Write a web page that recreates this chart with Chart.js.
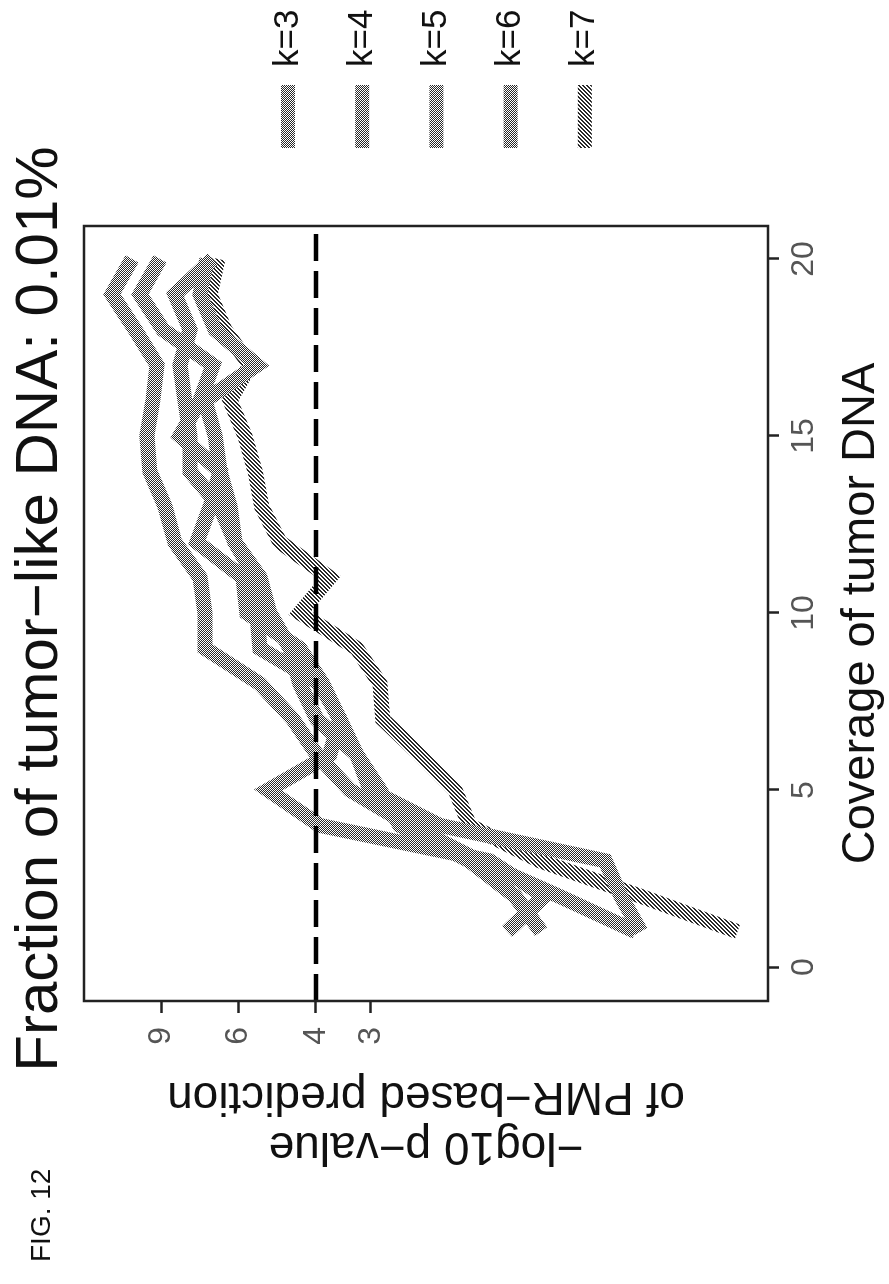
<!DOCTYPE html>
<html>
<head>
<meta charset="utf-8">
<style>
html, body { margin: 0; padding: 0; background: #fff; overflow: hidden; }
#page { position: absolute; left: 0; top: 0; width: 1284px; height: 889px; transform-origin: 0 0; transform: translate(0, 1284px) rotate(-90deg); }
</style>
<script src="https://cdn.jsdelivr.net/npm/chart.js@4.4.1/dist/chart.umd.min.js"></script>
</head>
<body>
<div id="page"><canvas id="fig12" width="1284" height="889"></canvas></div>
<script>
const coverage = [1, 2, 3, 4, 5, 6, 7, 8, 9, 10, 11, 12, 13, 14, 15, 16, 17, 18, 19, 20]
const kLabels = ["k=3", "k=4", "k=5", "k=6", "k=7"]
const pK3 = [0.75, 1.12, 1.70, 2.45, 3.35, 3.98, 4.51, 5.36, 7.15, 7.15, 7.34, 8.37, 8.81, 9.54, 9.69, 9.39, 9.19, 10.31, 11.63, 10.48]
const pK4 = [1.47, 1.21, 1.61, 3.92, 5.14, 3.72, 3.53, 3.86, 4.35, 5.74, 5.86, 7.46, 6.96, 6.61, 8.15, 7.34, 6.86, 8.91, 10.05, 9.05]
const pK5 = [1.23, 1.41, 1.79, 2.58, 2.86, 3.23, 3.53, 3.92, 5.36, 5.45, 5.50, 6.11, 6.61, 7.73, 7.73, 7.94, 8.15, 7.73, 8.37, 6.86]
const pK6 = [0.73, 0.81, 0.88, 2.09, 3.01, 3.23, 3.98, 4.35, 4.58, 5.09, 5.36, 6.11, 6.27, 6.61, 6.78, 7.15, 5.45, 6.78, 7.34, 7.08]
const pK7 = [0.44, 0.73, 1.24, 1.79, 1.93, 2.32, 2.82, 2.86, 3.23, 4.35, 3.72, 4.83, 5.31, 5.50, 5.80, 6.27, 5.65, 6.44, 6.96, 6.68]
const coverageTicks = [0, 5, 10, 15, 20]
const pValueTicks = [3, 4, 6, 9]
const threshold = 4

const fontFamily = "'Liberation Sans', Arial, sans-serif"
const canvas = document.getElementById("fig12")
const ctx = canvas.getContext("2d")

// halftone look of the scanned figure
function hatch(kind) {
  const tile = document.createElement("canvas")
  tile.width = 4
  tile.height = 4
  const g = tile.getContext("2d")
  g.fillStyle = "#fff"
  g.fillRect(0, 0, 4, 4)
  g.fillStyle = "#2a2a2a"
  for (let x = 0; x < 4; x++) {
    for (let y = 0; y < 4; y++) {
      const on = kind === "stripe" ? (x + y) % 4 < 2 : (x + y) % 2 === 0
      if (on) g.fillRect(x, y, 1, 1)
    }
  }
  return ctx.createPattern(tile, "repeat")
}

const dotted = hatch("dots")
const striped = hatch("stripe")
const seriesValues = [pK3, pK4, pK5, pK6, pK7]
const seriesFill = [dotted, dotted, dotted, dotted, striped]

const pageText = {
  id: "pageText",
  afterDatasetsDraw(chart) {
    const {ctx, chartArea, scales} = chart
    const yPix = scales.y.getPixelForValue(threshold)
    ctx.save()
    ctx.strokeStyle = "#000"
    ctx.lineWidth = 4.5
    ctx.setLineDash([27, 10])
    ctx.beginPath()
    ctx.moveTo(chartArea.left, yPix)
    ctx.lineTo(chartArea.right, yPix)
    ctx.stroke()
    ctx.restore()
  },
  afterDraw(chart) {
    const {ctx, chartArea} = chart
    ctx.save()
    ctx.strokeStyle = "#222"
    ctx.lineWidth = 2.5
    ctx.strokeRect(chartArea.left, chartArea.top, chartArea.right - chartArea.left, chartArea.bottom - chartArea.top)

    ctx.fillStyle = "#111"
    ctx.textAlign = "center"
    ctx.textBaseline = "alphabetic"
    ctx.font = "60px " + fontFamily
    ctx.fillText("Fraction of tumor\u2212like DNA: 0.01%", 675, 57)

    ctx.textAlign = "left"
    ctx.font = "28px " + fontFamily
    ctx.fillText("FIG. 12", 22, 50)

    ctx.font = "35px " + fontFamily
    ctx.textBaseline = "middle"
    chart.data.datasets.forEach((ds, i) => {
      const cy = 288 + i * 74.2
      ctx.fillStyle = ds.borderColor
      ctx.fillRect(1136, cy - 7, 63, 14)
      ctx.fillStyle = "#111"
      ctx.fillText(ds.label, 1217, cy)
    })
    ctx.restore()
  }
}

new Chart(canvas, {
  type: "line",
  data: {
    datasets: kLabels.map((label, i) => ({
      label: label,
      data: coverage.map((c, j) => ({x: c, y: seriesValues[i][j]})),
      borderColor: seriesFill[i],
      borderWidth: 15,
      borderJoinStyle: "miter",
      borderCapStyle: "butt",
      pointRadius: 0,
      fill: false,
      tension: 0
    }))
  },
  options: {
    responsive: false,
    animation: false,
    devicePixelRatio: 1,
    layout: {padding: {left: 0, top: 84, right: 226, bottom: 0}},
    plugins: {
      legend: {display: false},
      title: {display: false},
      tooltip: {enabled: false}
    },
    scales: {
      x: {
        type: "linear",
        min: -0.96,
        max: 20.93,
        afterBuildTicks: scale => { scale.ticks = coverageTicks.map(v => ({value: v})) },
        afterFit: scale => { scale.height = 121 },
        grid: {drawOnChartArea: false, drawTicks: true, tickLength: 11, tickColor: "#222", tickWidth: 2.5},
        border: {display: false},
        ticks: {color: "#555", padding: 6, font: {family: fontFamily, size: 32}, maxRotation: 0, callback: v => String(v)},
        title: {display: true, text: "Coverage of tumor DNA", color: "#111", padding: {top: 0, bottom: 2}, font: {family: fontFamily, size: 47, lineHeight: 1.087}}
      },
      y: {
        type: "logarithmic",
        min: 0.375,
        max: 13.47,
        afterBuildTicks: scale => { scale.ticks = pValueTicks.map(v => ({value: v})) },
        afterFit: scale => { scale.width = 283 },
        grid: {drawOnChartArea: false, drawTicks: true, tickLength: 12, tickColor: "#222", tickWidth: 2.5},
        border: {display: false},
        ticks: {color: "#555", padding: 14, font: {family: fontFamily, size: 32}, callback: v => String(v)},
        title: {display: true, text: ["\u2212log10 p\u2212value", "of PMR\u2212based prediction"], color: "#111", padding: {top: 113, bottom: 0}, font: {family: fontFamily, size: 46, lineHeight: 1.087}}
      }
    }
  },
  plugins: [pageText]
})
</script>
</body>
</html>
